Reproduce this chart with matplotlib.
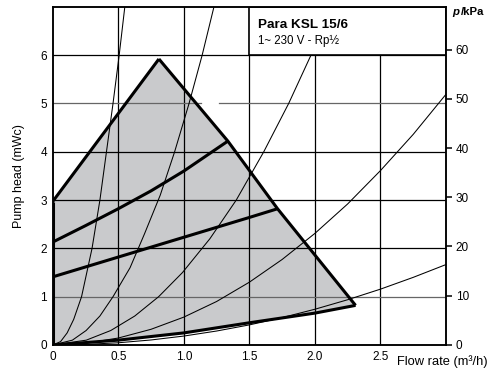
import matplotlib

matplotlib.use("Agg")
import matplotlib.pyplot as plt
from matplotlib.patches import Polygon, Rectangle

plt.rcParams["font.family"] = ["Liberation Sans", "DejaVu Sans"]

# pump speed curves (flow m3/h, head mWc)
flow_max = [0, 0.81]
head_max = [2.97, 5.92]
flow_mid = [0, 0.25, 0.5, 0.75, 1.0, 1.336]
head_mid = [2.13, 2.47, 2.82, 3.19, 3.6, 4.22]
flow_min = [0, 0.5, 1.0, 1.5, 1.715]
head_min = [1.41, 1.82, 2.23, 2.64, 2.82]

# outer limit of the working range
flow_edge = [0.81, 1.336, 1.715, 2.31]
head_edge = [5.92, 4.22, 2.82, 0.82]
flow_bottom = [0, 0.5, 1.0, 1.5, 2.0, 2.31]
head_bottom = [0, 0.1, 0.25, 0.46, 0.66, 0.82]

# system curves
sys_flow = [
    [0, 0.06, 0.11, 0.16, 0.22, 0.30, 0.36, 0.41, 0.46, 0.507, 0.55],
    [0, 0.15, 0.255, 0.36, 0.46, 0.59, 0.70, 0.82, 0.93, 1.04, 1.14, 1.23],
    [0, 0.256, 0.443, 0.626, 0.808, 0.99, 1.199, 1.40, 1.61, 1.80, 1.97, 2.12],
    [0, 0.25, 0.5, 0.75, 1.0, 1.25, 1.5, 1.75, 2.0, 2.25, 2.5, 2.75, 3.0],
    [0, 0.25, 0.5, 0.75, 1.0, 1.25, 1.5, 1.75, 2.0, 2.25, 2.5, 2.75, 3.0],
]
sys_head = [
    [0, 0.07, 0.25, 0.53, 1, 2, 3, 4, 5, 6, 7],
    [0, 0.1, 0.3, 0.6, 1, 1.6, 2.3, 3.1, 4, 5, 6, 7],
    [0, 0.1, 0.3, 0.6, 1, 1.5, 2.2, 3, 4, 5, 6, 7],
    [0, 0.036, 0.144, 0.325, 0.577, 0.90, 1.30, 1.77, 2.31, 2.92, 3.61, 4.36, 5.19],
    [0, 0.012, 0.046, 0.104, 0.185, 0.289, 0.416, 0.567, 0.74, 0.937, 1.156, 1.40, 1.665],
]

x_ticks = [0, 0.5, 1.0, 1.5, 2.0, 2.5]
x_labels = ["0", "0.5", "1.0", "1.5", "2.0", "2.5"]
y_ticks = [0, 1, 2, 3, 4, 5, 6]
kpa_ticks = [0, 10, 20, 30, 40, 50, 60]
KPA_PER_MWC = 9.81

fig = plt.figure(figsize=(5.03, 3.72), dpi=100)
ax = fig.add_axes([0.1048, 0.0726, 0.7819, 0.9078])
ax.set_xlim(0, 3.0)
ax.set_ylim(0, 6.99)

# shaded working range
outline = (
    [(0, 0)]
    + list(zip(flow_max, head_max))
    + list(zip(flow_edge[1:], head_edge[1:]))
    + list(zip(flow_bottom[::-1], head_bottom[::-1]))
)
ax.add_patch(Polygon(outline, closed=True, facecolor="#c9cacc", edgecolor="none", zorder=1))

# grid
for xv in x_ticks[1:]:
    ax.axvline(xv, color="black", lw=0.9, zorder=2)
for yv in y_ticks[1:]:
    col = "#666666" if yv in (1, 5) else "black"
    if yv == 5:
        ax.plot([0, 1.13], [yv, yv], color=col, lw=0.9, zorder=2)
        ax.plot([1.27, 3.0], [yv, yv], color=col, lw=0.9, zorder=2)
    else:
        ax.axhline(yv, color=col, lw=0.9, zorder=2)

for fx, hy in zip(sys_flow, sys_head):
    ax.plot(fx, hy, color="black", lw=0.75, zorder=3)

thick = dict(color="black", lw=2.2, zorder=4, solid_joinstyle="miter", solid_capstyle="butt")
ax.plot([0, 0], [0, head_max[0]], **thick)
ax.plot(flow_max, head_max, **thick)
ax.plot(flow_edge, head_edge, **thick)
ax.plot(flow_mid, head_mid, **thick)
ax.plot(flow_min, head_min, **thick)
ax.plot(flow_bottom, head_bottom, **thick)

# title box
ax.add_patch(Rectangle((1.5, 6.0), 1.5, 1.0, facecolor="white", edgecolor="black", lw=1.2, zorder=5))
ax.text(1.565, 6.63, "Para KSL 15/6", fontsize=9.7, fontweight="bold", va="center", zorder=6)
ax.text(1.565, 6.3, "1~ 230 V - Rp½", fontsize=8.3, va="center", zorder=6)

ax.set_xticks(x_ticks)
ax.set_xticklabels(x_labels)
ax.set_yticks(y_ticks)
ax.tick_params(axis="both", length=0, labelsize=8.5, pad=4)
ax.set_ylabel("Pump head (mWc)", fontsize=9, labelpad=11)
for sp in ax.spines.values():
    sp.set_linewidth(1.1)
    sp.set_zorder(7)

ax2 = ax.twinx()
ax2.set_ylim(0, 6.99 * KPA_PER_MWC)
ax2.set_yticks(kpa_ticks)
ax2.tick_params(axis="y", direction="out", length=4, width=1.1, labelsize=8.5, pad=3)
for sp in ax2.spines.values():
    sp.set_linewidth(1.1)

fig.text(397 / 503, 1 - 362 / 372, "Flow rate (m³/h)", fontsize=9.3, va="center", ha="left")
fig.text(452.5 / 503, 1 - 12 / 372, "p", fontsize=8.2, fontweight="bold", fontstyle="italic", va="center")
fig.text(460.5 / 503, 1 - 12 / 372, "/kPa", fontsize=8.2, fontweight="bold", va="center")

fig.savefig("out.png", dpi=100)
